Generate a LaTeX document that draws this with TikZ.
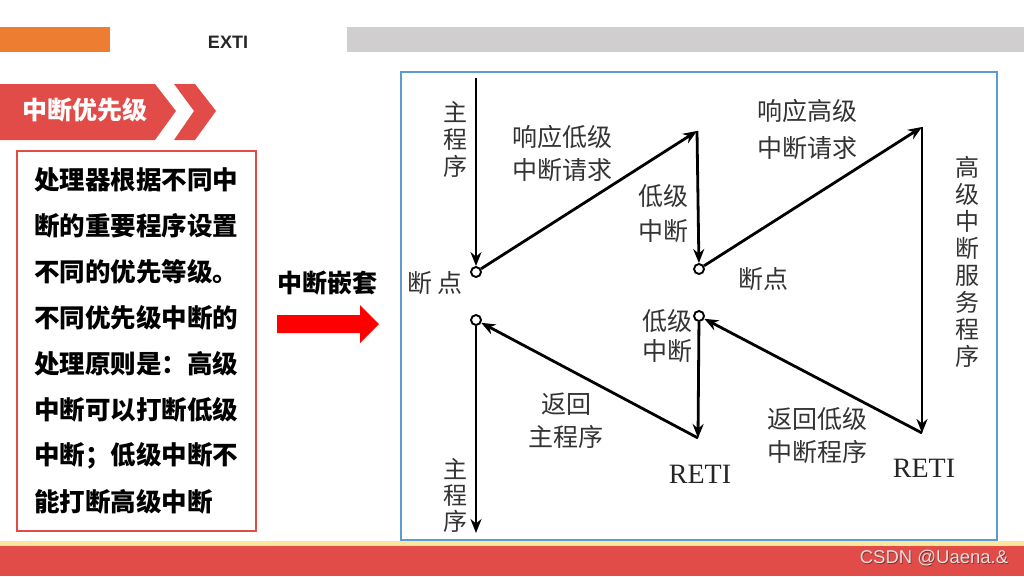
\documentclass[tikz,border=0pt]{standalone}
\usepackage{fontspec}
\setmainfont{Noto Sans CJK SC}
\newfontfamily\retifont{Liberation Serif}
\newfontfamily\latinfont{Liberation Sans}
\usetikzlibrary{positioning,arrows.meta}

\definecolor{bannerred}{RGB}{226,76,72}
\definecolor{barorange}{RGB}{237,125,49}
\definecolor{bargray}{RGB}{208,206,206}
\definecolor{frameblue}{RGB}{91,155,213}
\definecolor{lineyellow}{RGB}{253,229,153}

\tikzset{
	flow/.style={line width=2.8pt,-{Stealth[length=14pt,width=11pt]}},
	brk/.style={circle,draw,line width=1.9pt,inner sep=0pt,minimum size=10pt},
	lbl/.style={font=\fontsize{25}{33}\selectfont,align=center,inner sep=0pt,text=black!80},
	vlbl/.style={font=\fontsize{24}{27}\selectfont,align=center,inner sep=0pt,text=black!80},
	reti/.style={font=\retifont\fontsize{28}{30}\selectfont,inner sep=0pt,text=black!85},
	body/.style={font=\bfseries\fontsize{25.5}{30}\selectfont,inner sep=0pt,anchor=west}
}

\begin{document}
\begin{tikzpicture}[x=1pt,y=-1pt]
		\useasboundingbox (0,0) rectangle (1024,576);
		% top bars
		\fill[barorange] (0,27) rectangle (110,52);
		\fill[bargray] (347,27) rectangle (1024,52);
		\node[font=\latinfont\bfseries\fontsize{18}{20}\selectfont,text=black!85] (title) at (228,42) {EXTI};
		% banner
		\fill[bannerred] (0,84) -- (155,84) -- (176,111) -- (155,140) -- (0,140) -- cycle;
		\fill[bannerred] (174,84) -- (195,84) -- (216,111) -- (195,140) -- (174,140) -- (194,111) -- cycle;
		\node[font=\bfseries\fontsize{25}{30}\selectfont,text=white] (banner) at (85,110) {中断优先级};
		% text box
		\draw[bannerred,line width=2pt] (17,151) rectangle (256,531);
		\foreach \txt [count=\i] in {处理器根据不同中,断的重要程序设置,不同的优先等级。,不同优先级中断的,处理原则是：高级,中断可以打断低级,中断；低级中断不,能打断高级中断}
			\node[body] (line\i) at (34,{180+46*(\i-1)}) {\txt};
		% big arrow
		\node[font=\bfseries\fontsize{25}{30}\selectfont] (nest) at (327,283) {中断嵌套};
		\fill[red] (277,315) -- (360,315) -- (360,305) -- (379,324) -- (360,343) -- (360,333) -- (277,333) -- cycle;
		% diagram frame
		\draw[frameblue,line width=2pt] (401,72) rectangle (997,540);
		\node[brk] (bp1) at (476,272) {};
		\node[brk] (bp2) at (699,269) {};
		\node[brk] (ret1) at (699,316) {};
		\node[brk] (ret0) at (476,320) {};
		\coordinate (start) at (476,78);
		\coordinate (low) at (697,131);
		\coordinate (high) at (922,127);
		\coordinate (reti2) at (922,433);
		\coordinate (reti1) at (698,438);
		\coordinate (finish) at (476,533);
		\draw[flow] (start) -- (bp1);
		\draw[flow] (bp1) -- (low);
		\draw[flow] (low) -- (bp2);
		\draw[flow] (bp2) -- (high);
		\draw[flow] (high) -- (reti2);
		\draw[flow] (reti2) -- (ret1);
		\draw[flow] (ret1) -- (reti1);
		\draw[flow] (reti1) -- (ret0);
		\draw[flow] (ret0) -- (finish);
		% labels
		\node[vlbl] (main1) at (455,139) {主\\程\\序};
		\node[lbl] (bptxt1) at (435,283) {断\,点};
		\node[lbl] (reqlow) at (562,153) {响应低级\\中断请求};
		\node[lbl,font=\fontsize{25}{35}\selectfont] (lowisr1) at (663,214) {低级\\中断};
		\node[lbl] (bptxt2) at (763,279) {断点};
		\node[lbl,font=\fontsize{25}{37}\selectfont] (reqhigh) at (807,129) {响应高级\\中断请求};
		\node[vlbl,font=\fontsize{24}{27}\selectfont] (highisr) at (967,262) {高\\级\\中\\断\\服\\务\\程\\序};
		\node[reti] (retitxt2) at (924,468) {RETI};
		\node[reti] (retitxt1) at (700,474) {RETI};
		\node[lbl,font=\fontsize{25}{30}\selectfont] (lowisr2) at (667,336) {低级\\中断};
		\node[lbl] (backlow) at (817,436) {返回低级\\中断程序};
		\node[lbl] (backmain) at (566,421) {返回\\主程序};
		\node[vlbl,font=\fontsize{24}{26}\selectfont] (main2) at (455,495) {主\\程\\序};
		% bottom bar
		\fill[lineyellow] (0,541) rectangle (1024,546);
		\fill[bannerred] (0,546) rectangle (1024,576);
		\node[font=\latinfont\fontsize{18.5}{20}\selectfont,text=bannerred!60!black] at (934.8,558.8) {CSDN @Uaena.\&};
		\node[font=\latinfont\fontsize{18.5}{20}\selectfont,text=white!88!black] (mark) at (934,558) {CSDN @Uaena.\&};
\end{tikzpicture}
\end{document}
